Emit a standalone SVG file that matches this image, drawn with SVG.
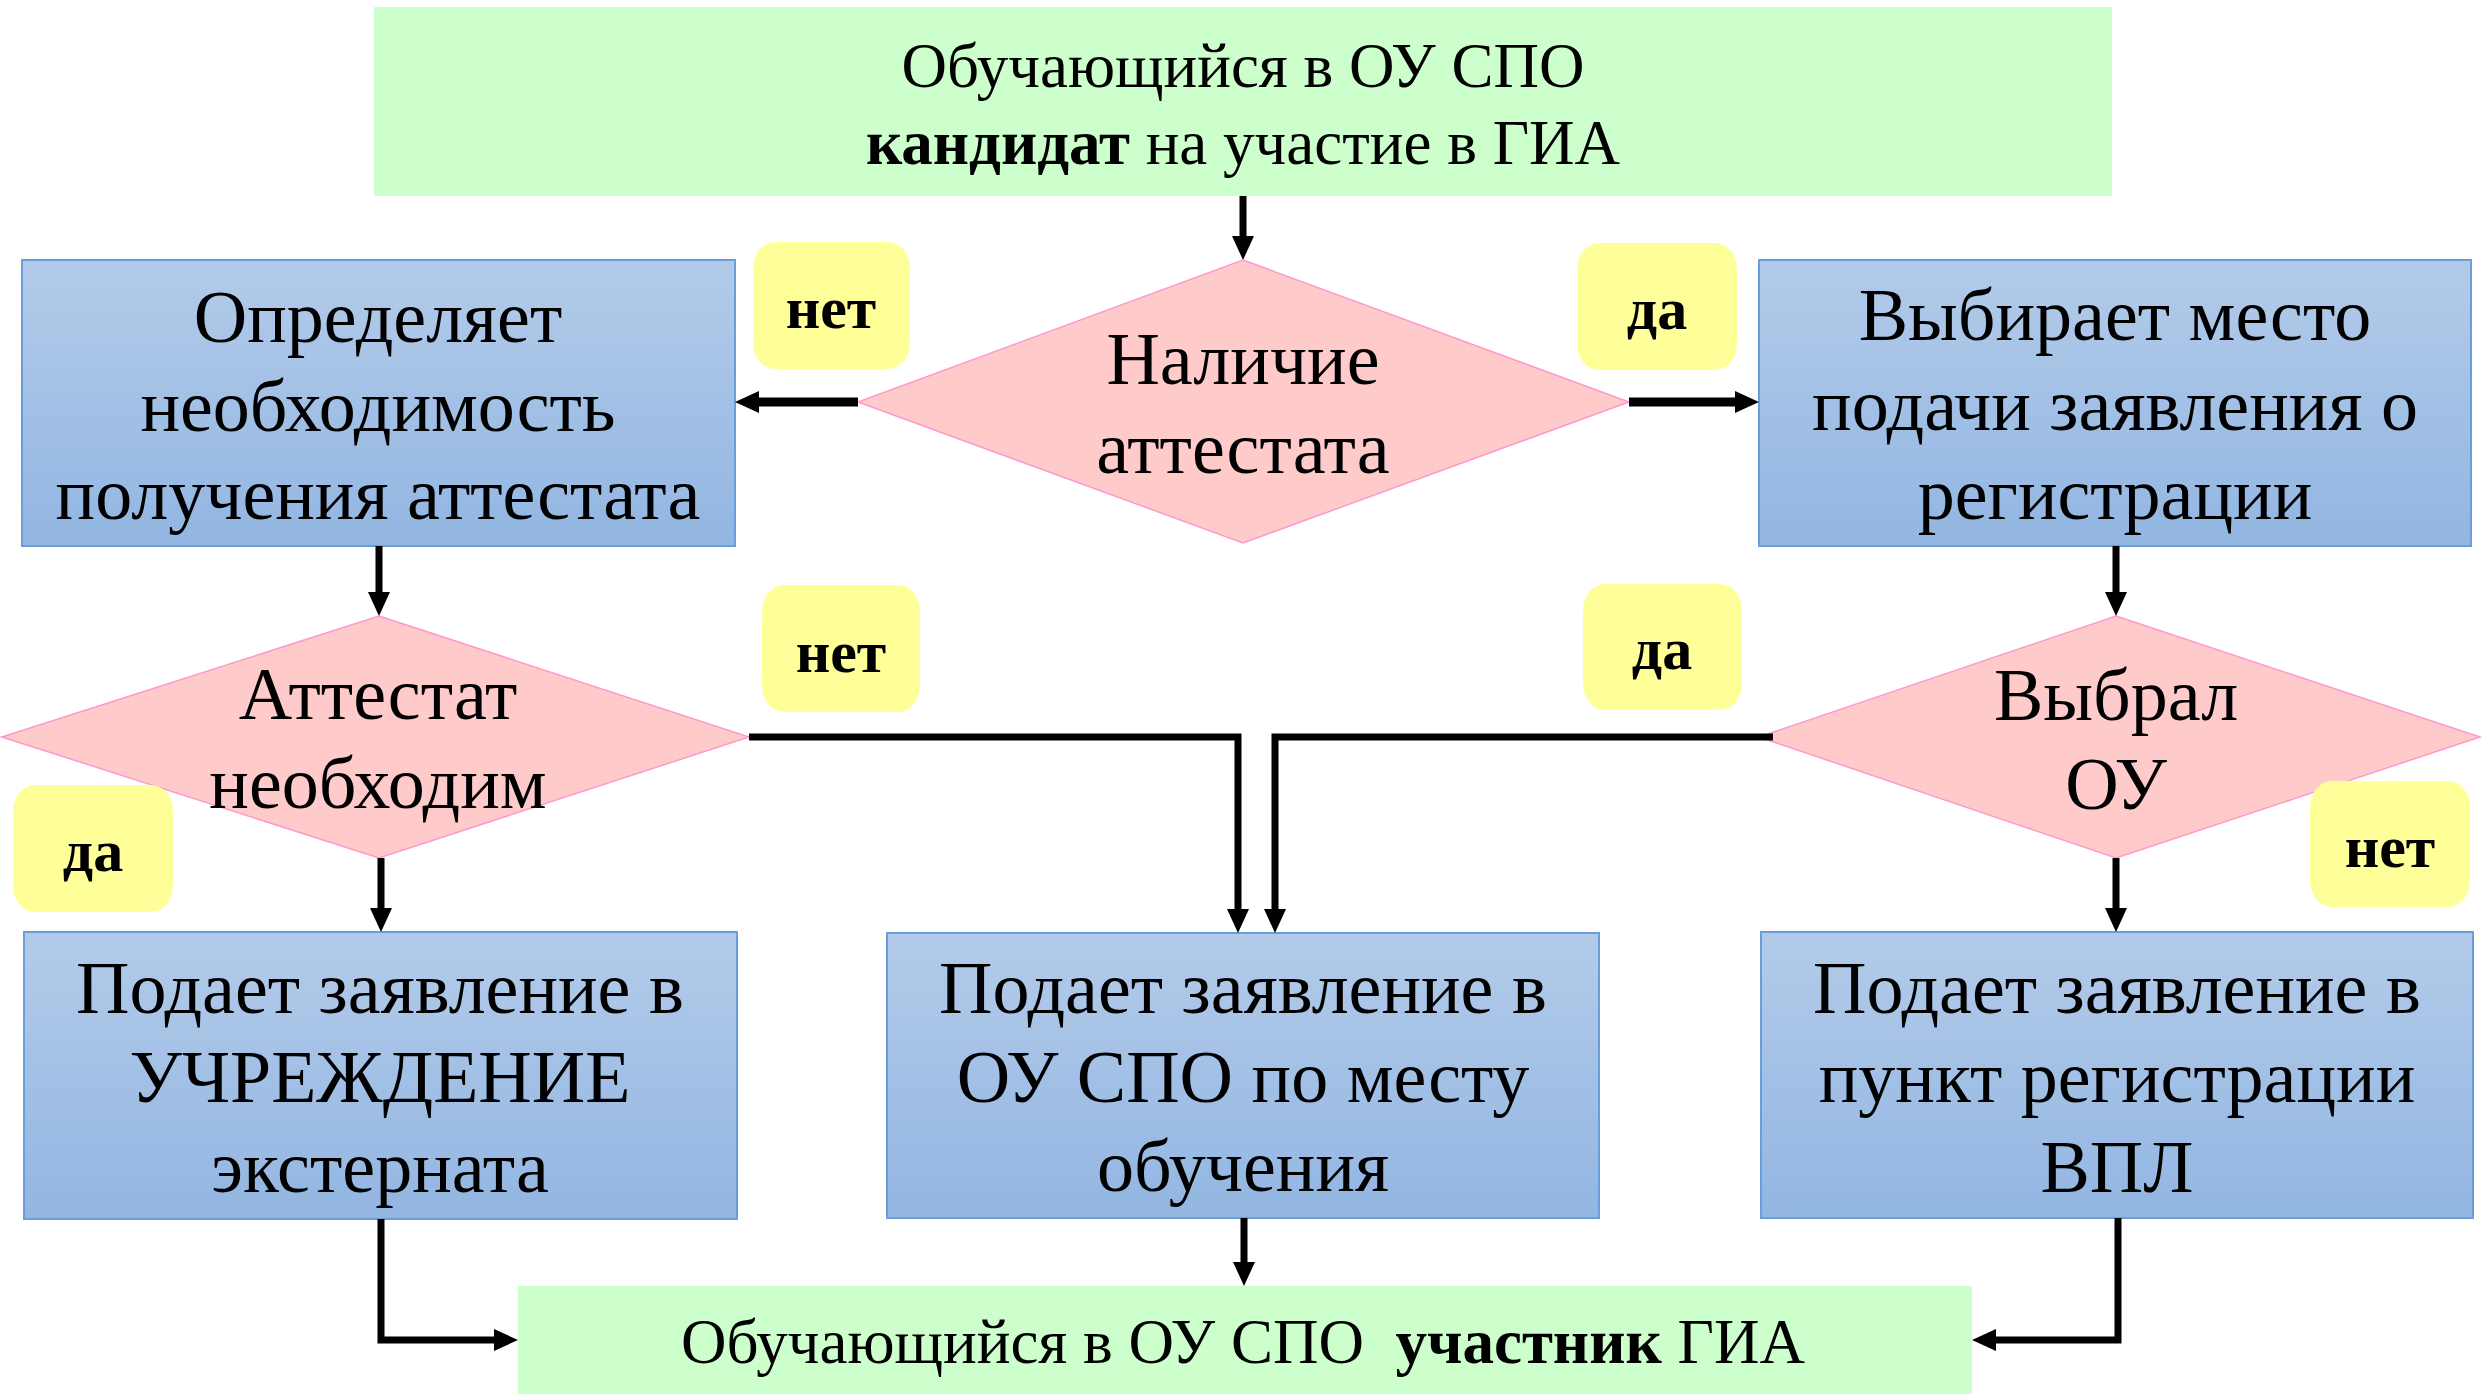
<svg xmlns="http://www.w3.org/2000/svg" width="2483" height="1397" viewBox="0 0 2483 1397">
<defs>
<linearGradient id="blueGrad" x1="0" y1="0" x2="0" y2="1">
<stop offset="0" stop-color="#B3CBE9"/>
<stop offset="1" stop-color="#92B6E2"/>
</linearGradient>
<marker id="arrow" markerUnits="userSpaceOnUse" markerWidth="26" markerHeight="24" refX="4" refY="11" orient="auto">
<path d="M0,0 L24,11 L0,22 z" fill="#000"/>
</marker>
<style>
.green{fill:#CCFFCC;}
.blue{fill:url(#blueGrad);stroke:#6A9DD9;stroke-width:2;}
.dia{fill:#FFCACA;stroke:#FF99CC;stroke-width:1.5;}
.lbl{fill:#FFFF99;}
.t{font-family:"Liberation Serif","Times New Roman",serif;fill:#000;text-anchor:middle;}
.big{font-size:74px;}
.mid{font-size:63px;}
.yl{font-size:60px;font-weight:bold;}
.conn{fill:none;stroke:#000;stroke-width:7;marker-end:url(#arrow);}
.thick{stroke-width:9;}
</style>
</defs>
<rect width="2483" height="1397" fill="#fff"/>

<g id="start">
<rect class="green" x="374" y="7" width="1738" height="189"/>
<text class="t mid" x="1243" y="87">Обучающийся в ОУ СПО</text>
<text class="t mid" x="1243" y="164"><tspan font-weight="bold">кандидат</tspan> на участие в ГИА</text>
</g>

<g id="decision-attestat">
<polygon class="dia" points="1243,260 1629,402 1243,543 858,402"/>
<text class="t big" x="1243" y="384">Наличие</text>
<text class="t big" x="1243" y="473">аттестата</text>
</g>

<g id="determine">
<rect class="blue" x="22" y="260" width="713" height="286"/>
<text class="t big" x="378" y="342">Определяет</text>
<text class="t big" x="378" y="431">необходимость</text>
<text class="t big" x="378" y="519">получения аттестата</text>
</g>

<g id="choose-place">
<rect class="blue" x="1759" y="260" width="712" height="286"/>
<text class="t big" x="2115" y="340">Выбирает место</text>
<text class="t big" x="2115" y="430">подачи заявления о</text>
<text class="t big" x="2115" y="519">регистрации</text>
</g>

<g id="decision-needed">
<polygon class="dia" points="379,616 749,737 379,858 2,737"/>
<text class="t big" x="378" y="719">Аттестат</text>
<text class="t big" x="378" y="808">необходим</text>
</g>

<g id="decision-ou">
<polygon class="dia" points="2116,616 2480,737 2116,858 1759,737"/>
<text class="t big" x="2116" y="720">Выбрал</text>
<text class="t big" x="2116" y="809">ОУ</text>
</g>

<g id="externat">
<rect class="blue" x="24" y="932" width="713" height="287"/>
<text class="t big" x="380" y="1013">Подает заявление в</text>
<text class="t big" x="380" y="1102">УЧРЕЖДЕНИЕ</text>
<text class="t big" x="380" y="1192">экстерната</text>
</g>

<g id="ou-spo">
<rect class="blue" x="887" y="933" width="712" height="285"/>
<text class="t big" x="1243" y="1013">Подает заявление в</text>
<text class="t big" x="1243" y="1102">ОУ СПО по месту</text>
<text class="t big" x="1243" y="1191">обучения</text>
</g>

<g id="vpl">
<rect class="blue" x="1761" y="932" width="712" height="286"/>
<text class="t big" x="2117" y="1013">Подает заявление в</text>
<text class="t big" x="2117" y="1102">пункт регистрации</text>
<text class="t big" x="2117" y="1192">ВПЛ</text>
</g>

<g id="finish">
<rect class="green" x="518" y="1286" width="1454" height="108"/>
<text class="t mid" x="1243" y="1363" xml:space="preserve">Обучающийся в ОУ СПО  <tspan font-weight="bold">участник</tspan> ГИА</text>
</g>

<g id="connectors">
<path class="conn" d="M1243,196 V240"/>
<path class="conn thick" d="M858,402 H755"/>
<path class="conn thick" d="M1629,402 H1739"/>
<path class="conn" d="M379,546 V596"/>
<path class="conn" d="M2116,546 V596"/>
<path class="conn" d="M381,858 V912"/>
<path class="conn" d="M2116,858 V912"/>
<path class="conn" d="M749,737 H1238 V913"/>
<path class="conn" d="M1773,737 H1275 V913"/>
<path class="conn" d="M1244,1218 V1266"/>
<path class="conn" d="M381,1219 V1340 H498"/>
<path class="conn" d="M2118,1218 V1340 H1992"/>
</g>

<g id="label-net-1">
<rect class="lbl" x="753" y="242" width="157" height="127" rx="22" ry="26"/>
<text class="t yl" x="831" y="328">нет</text>
</g>
<g id="label-da-1">
<rect class="lbl" x="1577" y="243" width="160" height="127" rx="22" ry="26"/>
<text class="t yl" x="1657" y="329">да</text>
</g>
<g id="label-net-2">
<rect class="lbl" x="762" y="585" width="158" height="127" rx="22" ry="26"/>
<text class="t yl" x="841" y="672">нет</text>
</g>
<g id="label-da-2">
<rect class="lbl" x="1583" y="584" width="159" height="126" rx="22" ry="26"/>
<text class="t yl" x="1662" y="669">да</text>
</g>
<g id="label-da-3">
<rect class="lbl" x="13" y="785" width="160" height="127" rx="22" ry="26"/>
<text class="t yl" x="93" y="871">да</text>
</g>
<g id="label-net-3">
<rect class="lbl" x="2310" y="781" width="160" height="126" rx="22" ry="26"/>
<text class="t yl" x="2390" y="867">нет</text>
</g>
</svg>
